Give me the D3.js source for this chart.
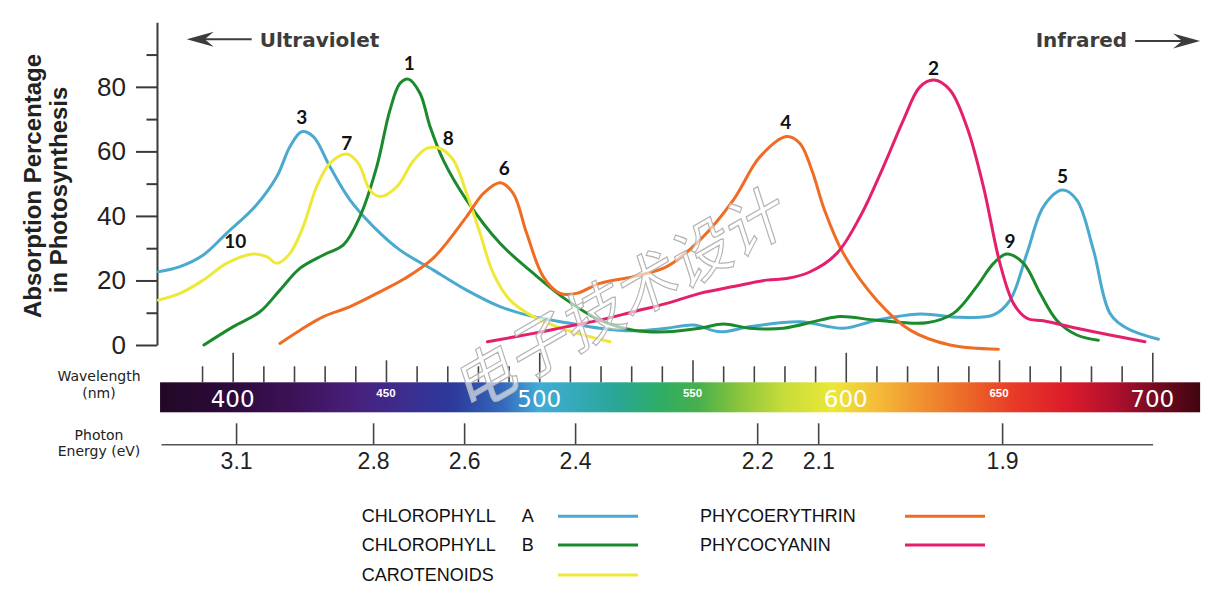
<!DOCTYPE html>
<html>
<head>
<meta charset="utf-8">
<script src="https://cdn.jsdelivr.net/npm/d3@7"></script>
<style>
  html, body { margin: 0; padding: 0; background: #fff; }
  svg { display: block; }
</style>
</head>
<body>
<svg id="chart" width="1228" height="600"></svg>
<script>
// ---------- DATA ----------
const seriesNames = ["CHLOROPHYLL A", "CHLOROPHYLL B", "CAROTENOIDS", "PHYCOERYTHRIN", "PHYCOCYANIN"];
const seriesColors = ["#4aa9cf", "#1a8a2c", "#eee938", "#ef6c22", "#e41f6c"];

// [wavelength nm, absorption %]
const chlorophyllA = [[375.7,22.7],[382.8,24.3],[390.4,27.9],[398,34.6],[407.3,42.9],[414.4,52.2],[418.7,61.5],[422.5,66.1],[426.3,64.6],[431.7,55.3],[438.3,44.9],[445.9,36.7],[454.6,29.4],[465.5,23.2],[476.3,17.0],[487.2,11.9],[498.1,8.8],[509,6.9],[519.8,5.2],[530.7,4.4],[541.6,5.2],[550.3,6.2],[559,4.1],[568.8,5.7],[585.1,7.2],[599.2,5.2],[610.1,7.7],[624.2,9.6],[637.3,8.6],[648.2,9.3],[653.6,13.9],[659.1,28.4],[664.5,42.9],[670.7,48.0],[675.4,44.9],[680.8,29.4],[686.2,9.8],[691.7,5.2],[702,1.8]];
const chlorophyllB = [[390.6,0],[400.2,5.7],[408.9,10.3],[415.4,17],[422,23.8],[429.6,27.9],[436.1,31],[441.5,39.8],[447,55.3],[451.3,72.8],[454.6,81.1],[457.3,82.4],[461.1,78],[464.4,67.6],[468.7,57.3],[476.3,44.9],[487.2,31.5],[498.1,22.2],[509,13.9],[519.8,7.7],[530.7,4.6],[541.6,4.1],[552.4,5.2],[560.1,6.5],[568.8,5.2],[579.6,5.2],[591.6,7.7],[598.2,8.8],[610.1,7.7],[626.4,6.9],[635.1,9.8],[642.7,18.1],[648.2,25.3],[652.5,28.2],[658,25.3],[663.4,16],[668.8,7.7],[675.4,3.1],[682.4,1.5]];
const carotenoids = [[375.7,13.9],[382.8,16],[390.4,20.1],[398,25.3],[406.7,28.2],[411.1,27.4],[414.4,25.3],[418.7,28.4],[423,36.7],[427.4,49.1],[431.7,56.3],[437.2,59.2],[441,56.3],[444.8,48],[448.1,46],[453.5,49],[458.9,57],[463.3,60.9],[467.6,60.9],[472,57.3],[476.3,47],[480.7,34.6],[485,22.2],[490.5,13.9],[498.1,8.8],[509,4.6],[523.1,1]];
const phycoerythrin = [[415.4,0.5],[422,4.6],[429.6,8.8],[438.3,11.9],[449.1,17],[456,20.5],[465.5,27],[476.3,39.8],[481.8,47],[487.2,50.3],[491.5,47],[495.9,34.6],[501.3,21.2],[506.8,16],[512.2,16],[519.8,19.1],[530.7,21.2],[541.6,24.3],[552.4,32.5],[563.3,44.9],[572,58.3],[580.7,64.6],[585,62.5],[589,54],[593,42],[599.2,28.4],[610.1,13.9],[621,4.6],[634,0],[649.8,-1.3]];
const phycocyanin = [[483.1,1],[498.1,3.6],[509,5.7],[519.8,7.7],[530.7,10.3],[541.6,12.9],[552.4,16],[563.3,18.1],[574.2,20.1],[580.7,20.6],[588.4,22.7],[597.1,28.4],[604.7,39.8],[612.3,55.3],[618.8,69.7],[624.2,80],[628.8,82.1],[634,79],[639.5,67.6],[644.9,49.1],[650.3,25.3],[654.7,12.9],[659.1,8.3],[664.5,7.5],[675.4,5.2],[686.2,3.1],[697.6,1]];
const seriesData = [chlorophyllA, chlorophyllB, carotenoids, phycoerythrin, phycocyanin];

// peak labels: [text, wavelength, value]
const peakLabels = [["1",457.6,87.3],["2",628.6,85.7],["3",422.5,70.6],["4",580.4,69.2],["5",670.7,52.2],["6",488.6,54.9],["7",437.2,62.5],["8",470.3,64.2],["9",653.6,32.2],["10",400.8,32.3]];

const yTicks = [0,10,20,30,40,50,60,70,80,90];
const yTickLabels = ["0","","20","","40","","60","","80",""];
const wavelengthTicks = d3.range(390, 701, 10);
const wavelengthBigLabels = [400, 500, 600, 700];
const wavelengthSmallLabels = [450, 550, 650];
const energyLabels = ["3.1","2.8","2.6","2.4","2.2","2.1","1.9"];
const energyPositions = [401.1, 445.8, 475.5, 511.7, 571.1, 591, 651];

// spectrum colour stops: [wavelength, colour]
const spectrumStops = [[376,"#220826"],[400,"#2e0a3c"],[420,"#3d1258"],[440,"#47207c"],[455,"#3d2c8e"],[472,"#2c3a9c"],[488,"#3568bd"],[500,"#42acd6"],[512,"#34aab8"],[525,"#2aa696"],[540,"#2fad64"],[552,"#47b04c"],[566,"#8ec63c"],[580,"#c8dc3a"],[596,"#ece838"],[610,"#f4bc38"],[625,"#f09030"],[640,"#ec6628"],[655,"#e83a28"],[672,"#dc1c2a"],[688,"#b0102e"],[700,"#7a0a22"],[716,"#3e0510"]];

// ---------- SCALES ----------
const svg = d3.select("#chart");
const x = d3.scaleLinear().domain([400, 700]).range([232.7, 1152.3]);
const y = d3.scaleLinear().domain([0, 100]).range([345, 22.3]);
const axisLeftX = x(375.3);

// ---------- Y AXIS ----------
const yAxisG = svg.append("g").attr("transform", `translate(${axisLeftX},0)`)
  .call(d3.axisLeft(y).tickValues(yTicks).tickSize(21).tickSizeOuter(0).tickPadding(10)
        .tickFormat((d, i) => yTickLabels[i]));
yAxisG.select(".domain").attr("stroke", "#3a3a3a").attr("stroke-width", 2);
yAxisG.selectAll(".tick line").attr("stroke", "#3a3a3a").attr("stroke-width", 2)
  .attr("x2", d => d % 20 === 0 ? -21 : -10.5);
yAxisG.selectAll(".tick text").attr("font-family", "Liberation Sans, Arial, sans-serif")
  .attr("font-size", 26).attr("fill", "#222");

// y title
const yTitle = svg.append("g").attr("font-family", "Liberation Sans, Arial, sans-serif")
  .attr("font-weight", "bold").attr("font-size", 24).attr("fill", "#222").attr("text-anchor", "middle");
yTitle.append("text").attr("transform", "translate(41,186) rotate(-90)").text("Absorption Percentage");
yTitle.append("text").attr("transform", "translate(67,190) rotate(-90)").text("in Photosynthesis");

// ---------- ARROWS ----------
const annG = svg.append("g").attr("fill", "#3c3c3c");
annG.append("text").attr("x", x(406.2) + 8).attr("y", 46.5)
  .attr("font-family", "DejaVu Sans, sans-serif").attr("font-weight", "bold").attr("font-size", 20)
  .text("Ultraviolet");
annG.append("line").attr("x1", x(385) + 10).attr("x2", x(406.2)).attr("y1", 39.3).attr("y2", 39.3)
  .attr("stroke", "#3c3c3c").attr("stroke-width", 2);
{
  const tx = x(385), ty = 39.3;
  annG.append("path").attr("d", `M${tx},${ty} L${tx+27},${ty-7.5} L${tx+18},${ty} L${tx+27},${ty+7.5} Z`);
}
annG.append("text").attr("x", x(694.4) - 8).attr("y", 46.5).attr("text-anchor", "end")
  .attr("font-family", "DejaVu Sans, sans-serif").attr("font-weight", "bold").attr("font-size", 20)
  .text("Infrared");
annG.append("line").attr("x1", x(694.4)).attr("x2", x(715.6) - 10).attr("y1", 41).attr("y2", 41)
  .attr("stroke", "#3c3c3c").attr("stroke-width", 2);
{
  const tx = x(715.6), ty = 41;
  annG.append("path").attr("d", `M${tx},${ty} L${tx-27},${ty-7.5} L${tx-18},${ty} L${tx-27},${ty+7.5} Z`);
}

// ---------- CURVES ----------
const line = d3.line().x(d => x(d[0])).y(d => y(d[1])).curve(d3.curveCatmullRom.alpha(0.5));
svg.append("g").selectAll("path").data(seriesData).join("path")
  .attr("d", line).attr("fill", "none")
  .attr("stroke", (d, i) => seriesColors[i]).attr("stroke-width", 3)
  .attr("stroke-linecap", "round").attr("stroke-linejoin", "round");

// peak labels
svg.append("g").selectAll("text").data(peakLabels).join("text")
  .attr("x", d => x(d[1])).attr("y", d => y(d[2])).attr("dy", "0.36em")
  .attr("text-anchor", "middle").attr("font-family", "Lato, Open Sans, sans-serif")
  .attr("font-weight", "bold").attr("font-size", 19).attr("fill", "#111")
  .text(d => d[0]);

// ---------- SPECTRUM BAR ----------
const defs = svg.append("defs");
const barX0 = 376.3, barX1 = 715.6;
const grad = defs.append("linearGradient").attr("id", "spectrum")
  .attr("gradientUnits", "userSpaceOnUse").attr("x1", x(barX0)).attr("x2", x(barX1)).attr("y1", 0).attr("y2", 0);
grad.selectAll("stop").data(spectrumStops).join("stop")
  .attr("offset", d => (x(d[0]) - x(barX0)) / (x(barX1) - x(barX0)))
  .attr("stop-color", d => d[1]);
svg.append("rect").attr("x", x(barX0)).attr("y", 382.3).attr("width", x(barX1) - x(barX0)).attr("height", 30)
  .attr("fill", "url(#spectrum)");

// wavelength ticks above bar
const wlAxis = svg.append("g").attr("transform", "translate(0,382.3)")
  .call(d3.axisTop(x).tickValues(wavelengthTicks).tickSize(16).tickSizeOuter(0).tickFormat(""));
wlAxis.select(".domain").remove();
wlAxis.selectAll(".tick line").attr("stroke", "#444").attr("stroke-width", 1.6)
  .attr("y2", d => d % 100 === 0 ? -29.5 : (d % 50 === 0 ? -22 : -16));

// bar labels
svg.append("g").selectAll("text").data(wavelengthBigLabels).join("text")
  .attr("x", d => x(d)).attr("y", 407).attr("text-anchor", "middle")
  .attr("font-family", "DejaVu Sans, sans-serif").attr("font-size", 23).attr("fill", "#fff")
  .text(d => d);
svg.append("g").selectAll("text").data(wavelengthSmallLabels).join("text")
  .attr("x", d => x(d)).attr("y", 397).attr("text-anchor", "middle")
  .attr("font-family", "Liberation Sans, Arial, sans-serif").attr("font-weight", "bold")
  .attr("font-size", 11.5).attr("fill", "#fff")
  .text(d => d);

// left labels
const sideG = svg.append("g").attr("font-family", "DejaVu Sans, sans-serif").attr("font-size", 14)
  .attr("fill", "#222").attr("text-anchor", "middle");
sideG.append("text").attr("x", 99).attr("y", 381).text("Wavelength");
sideG.append("text").attr("x", 99).attr("y", 398).text("(nm)");
sideG.append("text").attr("x", 99).attr("y", 440).text("Photon");
sideG.append("text").attr("x", 99).attr("y", 456).text("Energy (eV)");

// ---------- ENERGY AXIS ----------
const xE = x.copy().domain([376.6, 700.1]).range([x(376.6), x(700.1)]);
const eAxis = svg.append("g").attr("transform", "translate(0,444.3)")
  .call(d3.axisBottom(xE).tickValues(energyPositions).tickSizeInner(-21).tickSizeOuter(0).tickPadding(8)
        .tickFormat((d, i) => energyLabels[i]));
eAxis.select(".domain").attr("stroke", "#555").attr("stroke-width", 1.6);
eAxis.selectAll(".tick line").attr("stroke", "#444").attr("stroke-width", 1.6);
eAxis.selectAll(".tick text").attr("font-family", "Liberation Sans, Arial, sans-serif")
  .attr("font-size", 23).attr("fill", "#222");

// ---------- LEGEND ----------
const legendCols = [[0,1,2],[3,4]];
const legendTextX = [361.7, 700];
const legendLineX = [[558, 638], [905, 985]];
const legendRowY = [522.3, 551, 581];
const legendSuffix = ["A", "B", "", "", ""];
const legG = svg.append("g").attr("font-family", "Liberation Sans, Arial, sans-serif")
  .attr("font-size", 18).attr("fill", "#111");
legendCols.forEach((col, ci) => {
  col.forEach((si, ri) => {
    const name = seriesNames[si].replace(/ [AB]$/, "");
    legG.append("text").attr("x", legendTextX[ci]).attr("y", legendRowY[ri]).text(name);
    if (legendSuffix[si]) {
      legG.append("text").attr("x", 521.7).attr("y", legendRowY[ri]).text(legendSuffix[si]);
    }
    legG.append("line").attr("x1", legendLineX[ci][0]).attr("x2", legendLineX[ci][1])
      .attr("y1", legendRowY[ri] - 6).attr("y2", legendRowY[ri] - 6)
      .attr("stroke", seriesColors[si]).attr("stroke-width", 3);
  });
});

// ---------- WATERMARK ----------
svg.append("text").attr("transform", "translate(622,300) rotate(-30) skewX(-12)")
  .attr("text-anchor", "middle").attr("dy", "0.35em")
  .attr("font-family", "Noto Sans CJK SC, sans-serif").attr("font-size", 62)
  .attr("fill", "#ffffff").attr("fill-opacity", 0.6)
  .attr("stroke", "#b4b4b4").attr("stroke-width", 1.2)
  .text("电子技术设计");
</script>
</body>
</html>
